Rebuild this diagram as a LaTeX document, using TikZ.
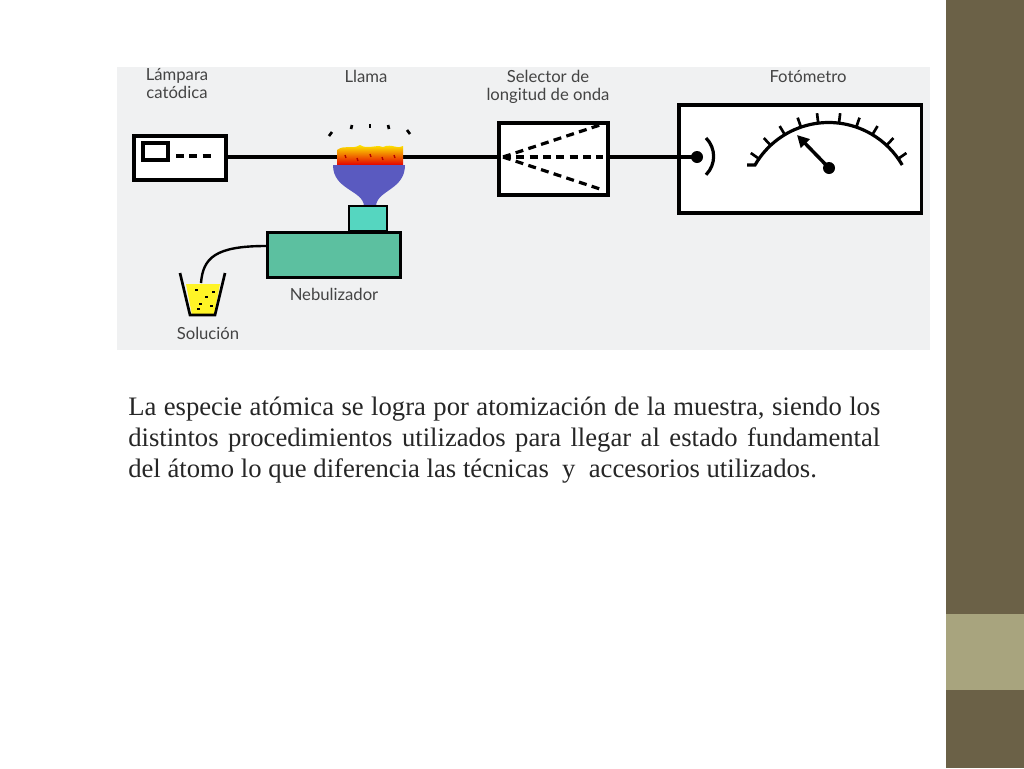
\documentclass[tikz,border=0pt]{standalone}
\usepackage{fontspec}
\setmainfont{Liberation Serif}
\newfontfamily\lab{Lato}
\usetikzlibrary{arrows.meta}
\definecolor{bar}{HTML}{6B6147}
\definecolor{barl}{HTML}{A8A47E}
\definecolor{panel}{HTML}{F0F1F2}
\definecolor{teal1}{HTML}{55D6C0}
\definecolor{teal2}{HTML}{5CC0A0}
\definecolor{blu}{HTML}{5a5ac0}
\definecolor{txt}{HTML}{444444}
\tikzset{
  lbl/.style={font=\lab\fontsize{12.5}{13.5}\selectfont, text=txt, align=center, inner sep=0pt},
  box/.style={draw=black, line width=2.8pt, fill=white},
  beam/.style={line width=2.4pt},
  dsh/.style={line width=2.4pt, dash pattern=on 6pt off 4pt},
}
\begin{document}
\begin{tikzpicture}[x=0.75pt,y=-0.75pt]
\useasboundingbox (0,0) rectangle (1024,768);
\fill[white] (0,0) rectangle (1024,768);
\fill[bar] (946,0) rectangle (1024,768);
\fill[barl] (946,614) rectangle (1024,690);
\fill[panel] (117,67) rectangle (930,350);
% beam
\coordinate (b0) at (224,157);
\coordinate (b1) at (697,157);
\draw[beam] (b0) -- (b1);
% lamp
\node[box, minimum width=69pt, minimum height=33pt, anchor=north west] (lamp) at (132,134) {};
\draw[line width=2.4pt] (143,143) rectangle (168,160);
\draw[dsh] (176,156) -- (215,156);
% selector
\node[box, minimum width=82pt, minimum height=54pt, anchor=north west] (sel) at (497,121) {};
\draw[beam] (sel.east |- b1) -- (b1);
\draw[dsh] (503,157) -- (603,124);
\draw[dsh] (503,157) -- (603,157);
\draw[dsh] (503,157) -- (603,190);
% photometer
\node[box, minimum width=182pt, minimum height=81pt, anchor=north west] (foto) at (677,103) {};
\draw[beam] (foto.west |- b1) -- (b1);
\node[circle, fill=black, inner sep=0pt, minimum size=9pt] (dot) at (b1) {};
\draw[line width=2.4pt] (706,138) arc[start angle=-45, end angle=45, radius=26];
\draw[line width=2.4pt] (747,165) -- (755,165) arc[start angle=210, end angle=330, radius=85];
\foreach \a in {145,133,121,109,97,83,71,59,47,35}
  \draw[line width=2pt] ({828.6+85*cos(\a)},{207.5-85*sin(\a)}) -- ({828.6+95*cos(\a)},{207.5-95*sin(\a)});
\node[circle, fill=black, inner sep=0pt, minimum size=9pt] (piv) at (829,168) {};
\draw[line width=2.6pt, -{Triangle[length=9pt,width=9pt]}] (piv.center) -- (797,135);
% flame
\shade[top color=yellow, bottom color=red!90!black]
  (337,165) -- (337,150) .. controls (345,144) and (352,150) .. (360,145)
  .. controls (368,150) and (375,144) .. (383,147) .. controls (392,143) and (398,150) .. (403,146) -- (403,165) -- cycle;
\foreach \x/\y in {345/155,357/158,370/154,382/157,394/155}
  \draw[red!70!black, line width=1pt] (\x,\y) -- ++(1,3);
% funnel
\fill[blu] (333,165) -- (405,165) .. controls (405,190) and (377,190) .. (376,206)
  -- (364,206) .. controls (363,190) and (333,190) .. (333,165) -- cycle;
% flame sparks
\foreach \x/\y/\dx in {332/132/-3,352/125/-1,370/124/0,388/125/1,407/130/3}
  \draw[line width=2pt] (\x,\y) -- ++(\dx,4);
% nebulizer
\draw[fill=teal1, line width=2pt] (349,206) rectangle (387,231);
\node[draw, fill=teal2, line width=2pt, minimum width=100pt, minimum height=34pt, anchor=north west] (neb) at (266,231) {};
% beaker
\fill[yellow!85!white] (186,284) -- (220,284) -- (214,315) -- (192,315) -- cycle;
\draw[line width=2pt] (180,273) -- (190,315) -- (215,315) -- (225,273);
\foreach \x/\y in {195/290,205/297,199/304,210/306,197/309,212/292}
  \draw[line width=1.4pt] (\x,\y) -- ++(3,0);
\coordinate (tip) at (201,283);
\draw[line width=1.8pt] (neb.west |- 0,246) .. controls (215,246) and (203,258) .. (tip);
% labels
\node[lbl, anchor=north] at (177,68) {Lámpara\\catódica};
\node[lbl, anchor=north] at (366,70) {Llama};
\node[lbl, anchor=north] at (548,70) {Selector de\\longitud de onda};
\node[lbl, anchor=north] at (808,70) {Fotómetro};
\node[lbl, anchor=north] at (334,288) {Nebulizador};
\node[lbl, anchor=north] at (208,327) {Solución};
% paragraph
\node[anchor=north west, inner sep=0pt, text width=564pt, align=justify,
  font=\fontsize{20}{23}\selectfont, text=black!85] at (128,397)
  {\lefthyphenmin=64 \righthyphenmin=64 La especie atómica se logra por atomización de la muestra, siendo los distintos procedimientos utilizados para llegar al estado fundamental del átomo lo que diferencia las técnicas~ y~ accesorios utilizados.};
\end{tikzpicture}
\end{document}
